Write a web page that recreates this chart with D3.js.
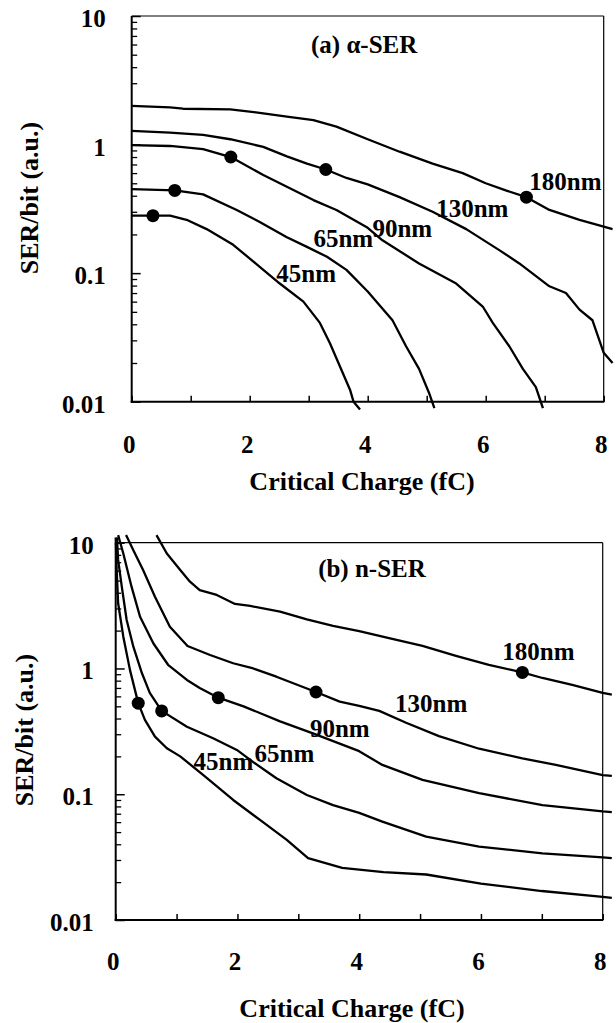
<!DOCTYPE html>
<html>
<head>
<meta charset="utf-8">
<script src="https://cdn.jsdelivr.net/npm/d3@7"></script>
<style>
  html, body { margin: 0; padding: 0; background: #fff; }
  svg text { font-family: "Liberation Serif", "Times New Roman", serif; font-weight: bold; fill: #000; }
</style>
</head>
<body>
<svg id="chart" width="616" height="1023"></svg>
<script>
// ---------------- data ----------------
const xTickValues = [0, 1, 2, 3, 4, 5, 6, 7, 8];
const xTickLabels = [0, 2, 4, 6, 8];
const yMajorTicks = [0.01, 0.1, 1, 10];
const nodeNames = ["45nm", "65nm", "90nm", "130nm", "180nm"];

// (a) alpha-SER curves  [critical charge fC, SER/bit]
const alpha45 = [[0,0.28],[0.36,0.28],[0.65,0.28],[0.93,0.26],[1.27,0.22],[1.72,0.166],[2.17,0.112],[2.51,0.083],[2.91,0.060],[3.19,0.041],[3.36,0.0285],[3.53,0.0188],[3.70,0.0124],[3.76,0.010],[3.87,0.0087]];
const alpha65 = [[0,0.45],[0.73,0.44],[1.21,0.41],[1.78,0.31],[2.17,0.25],[2.63,0.19],[2.97,0.16],[3.31,0.134],[3.64,0.106],[4.0,0.072],[4.42,0.043],[4.65,0.027],[4.87,0.018],[5.04,0.0117],[5.13,0.0089]];
const alpha90 = [[0,0.99],[0.65,0.975],[1.21,0.92],[1.68,0.80],[2.23,0.58],[2.63,0.47],[3.08,0.37],[3.47,0.31],[4.0,0.225],[4.25,0.18],[4.87,0.119],[5.50,0.083],[5.95,0.055],[6.12,0.041],[6.40,0.027],[6.63,0.018],[6.85,0.013],[6.97,0.0089]];
const alpha130 = [[0,1.28],[0.65,1.24],[1.21,1.19],[1.67,1.10],[2.23,0.96],[2.63,0.81],[2.97,0.71],[3.29,0.64],[3.64,0.55],[4.0,0.49],[4.54,0.39],[5.10,0.30],[5.67,0.22],[6.23,0.151],[6.57,0.119],[7.08,0.079],[7.36,0.070],[7.59,0.052],[7.81,0.043],[8.0,0.024],[8.15,0.020]];
const alpha180 = [[0,2.0],[0.65,1.95],[0.87,1.90],[1.67,1.88],[2.23,1.75],[2.63,1.65],[3.08,1.55],[3.47,1.38],[4.0,1.10],[4.54,0.88],[5.10,0.71],[5.61,0.60],[6.0,0.50],[6.34,0.44],[6.69,0.39],[7.08,0.31],[7.59,0.26],[8.0,0.23],[8.15,0.22]];
const alphaMarkers = [[0.36,0.28],[0.73,0.44],[1.68,0.80],[3.29,0.64],[6.69,0.39]];
const alphaLabelAnchors = [[2.45,0.0855],[3.08,0.160],[4.08,0.191],[5.16,0.273],[6.74,0.443]];

// (b) n-SER curves
const n45 = [[0.0,11],[0.016,6.06],[0.04,3.3],[0.125,1.79],[0.235,0.97],[0.37,0.53],[0.48,0.39],[0.645,0.287],[0.84,0.232],[1.06,0.20],[1.44,0.142],[1.93,0.090],[2.37,0.0625],[2.81,0.0434],[3.16,0.031],[3.72,0.026],[4.4,0.024],[5.1,0.023],[6.0,0.0195],[7.0,0.017],[8.0,0.0153],[8.15,0.015]];
const n65 = [[0.02,11],[0.04,7.3],[0.10,4.47],[0.18,2.43],[0.29,1.49],[0.43,0.92],[0.56,0.64],[0.755,0.46],[1.17,0.344],[1.60,0.279],[1.99,0.225],[2.26,0.18],[2.64,0.134],[3.14,0.0987],[3.57,0.082],[4.0,0.071],[4.38,0.0606],[5.10,0.046],[5.97,0.0383],[7.01,0.0339],[8.0,0.0315],[8.15,0.031]];
const n90 = [[0.04,11.5],[0.125,8.2],[0.26,4.47],[0.40,2.58],[0.62,1.58],[0.86,1.07],[1.17,0.81],[1.38,0.70],[1.685,0.586],[2.10,0.50],[2.70,0.38],[3.24,0.305],[4.0,0.22],[4.38,0.171],[5.04,0.13],[5.97,0.102],[7.01,0.082],[8.0,0.073],[8.15,0.072]];
const n130 = [[0.17,11.5],[0.29,8.7],[0.45,6.06],[0.645,3.72],[0.89,2.15],[1.18,1.51],[1.55,1.28],[1.93,1.10],[2.26,1.0],[2.64,0.86],[3.29,0.65],[3.68,0.545],[4.0,0.505],[4.33,0.46],[4.77,0.37],[5.31,0.29],[5.97,0.23],[6.68,0.193],[7.23,0.171],[8.0,0.142],[8.15,0.14]];
const n180 = [[0.67,11.5],[0.84,8.2],[1.06,6.06],[1.22,4.9],[1.38,4.2],[1.66,3.84],[1.96,3.26],[2.21,3.14],[2.70,2.83],[3.14,2.46],[3.57,2.18],[4.0,1.98],[4.49,1.74],[5.04,1.51],[5.59,1.26],[6.13,1.07],[6.68,0.93],[7.01,0.84],[7.50,0.74],[8.0,0.64],[8.15,0.62]];
const nMarkers = [[0.37,0.53],[0.755,0.46],[1.685,0.586],[3.29,0.65],[6.68,0.93]];
const nLabelAnchors = [[1.28,0.156],[2.28,0.181],[3.19,0.286],[4.59,0.451],[6.35,1.17]];

const panelTitles = ["(a) \u03B1-SER", "(b) n-SER"];
const titleAnchors = [[3.94,5.15],[4.21,5.37]];
const xAxisTitle = "Critical Charge (fC)";
const yAxisTitle = "SER/bit (a.u.)";

// ---------------- layout ----------------
const panels = [
  { left: 131.7, right: 603.7, top: 16, bottom: 401.7, labelPad: 26, xLabelY: 453, xTitleX: 362, xTitleY: 490, yTitleX: 38, yTitleY: 198,
    series: [alpha45, alpha65, alpha90, alpha130, alpha180], markers: alphaMarkers, labels: alphaLabelAnchors, title: panelTitles[0], titleAt: titleAnchors[0] },
  { left: 115.7, right: 602.7, top: 542.7, bottom: 920, labelPad: 22, xLabelY: 970, xTitleX: 352, xTitleY: 1017, yTitleX: 33, yTitleY: 730,
    series: [n45, n65, n90, n130, n180], markers: nMarkers, labels: nLabelAnchors, title: panelTitles[1], titleAt: titleAnchors[1] }
];

const svg = d3.select("#chart");
svg.append("rect").attr("width", 616).attr("height", 1023).attr("fill", "#fff");

const minorTicks = [];
[0.01, 0.1, 1].forEach(d => { for (let k = 2; k <= 9; k++) minorTicks.push(+(d * k).toPrecision(3)); });

panels.forEach(p => {
  const x = d3.scaleLinear().domain([0, 8]).range([p.left, p.right]);
  const y = d3.scaleLog().domain([0.01, 10]).range([p.bottom, p.top]);
  const g = svg.append("g");

  // curves
  const line = d3.line().x(d => x(d[0])).y(d => y(d[1]));
  g.selectAll("path.curve").data(p.series).enter().append("path")
    .attr("class", "curve")
    .attr("d", line)
    .attr("fill", "none")
    .attr("stroke", "#000")
    .attr("stroke-width", 2.3)
    .attr("stroke-linejoin", "round");

  // x axis (ticks inward)
  const xAxis = d3.axisBottom(x).tickValues(xTickValues).tickSizeInner(-6).tickSizeOuter(0)
    .tickFormat(d => xTickLabels.includes(d) ? String(d) : "");
  const gx = g.append("g").attr("transform", `translate(0,${p.bottom})`).call(xAxis);
  gx.select(".domain").remove();
  gx.selectAll(".tick line").attr("stroke", "#000").attr("stroke-width", 1.5);
  gx.selectAll(".tick text")
    .attr("y", p.xLabelY - p.bottom).attr("dy", null).attr("dx", -3)
    .style("font-size", "25px").style("font-family", "'Liberation Serif', 'Times New Roman', serif").style("font-weight", "bold").attr("fill", "#000");

  // y axis minor
  const yMinor = d3.axisLeft(y).tickValues(minorTicks).tickSizeInner(-5.5).tickSizeOuter(0).tickFormat("");
  const gym = g.append("g").attr("transform", `translate(${p.left},0)`).call(yMinor);
  gym.select(".domain").remove();
  gym.selectAll(".tick line").attr("stroke", "#000").attr("stroke-width", 1.3);

  // y axis major
  const yMajor = d3.axisLeft(y).tickValues(yMajorTicks).tickSizeInner(-9).tickSizeOuter(0)
    .tickPadding(p.labelPad).tickFormat(d => String(d));
  const gy = g.append("g").attr("transform", `translate(${p.left},0)`).call(yMajor);
  gy.select(".domain").remove();
  gy.selectAll(".tick line").attr("stroke", "#000").attr("stroke-width", 1.5);
  gy.selectAll(".tick text")
    .attr("dy", "0.42em")
    .style("font-size", "25px").style("font-family", "'Liberation Serif', 'Times New Roman', serif").style("font-weight", "bold").attr("fill", "#000");

  // frame
  g.append("line").attr("x1", p.left).attr("x2", p.right).attr("y1", p.top).attr("y2", p.top).attr("stroke", "#000").attr("stroke-width", 1.2);
  g.append("line").attr("x1", p.right).attr("x2", p.right).attr("y1", p.top).attr("y2", p.bottom).attr("stroke", "#000").attr("stroke-width", 1.2);
  g.append("line").attr("x1", p.left).attr("x2", p.left).attr("y1", p.top).attr("y2", p.bottom + 1).attr("stroke", "#000").attr("stroke-width", 2);
  g.append("line").attr("x1", p.left - 1).attr("x2", p.right + 0.6).attr("y1", p.bottom).attr("y2", p.bottom).attr("stroke", "#000").attr("stroke-width", 2);

  // markers
  g.selectAll("circle.mk").data(p.markers).enter().append("circle")
    .attr("class", "mk")
    .attr("cx", d => x(d[0])).attr("cy", d => y(d[1])).attr("r", 6.5).attr("fill", "#000");

  // node labels
  g.selectAll("text.node").data(p.labels).enter().append("text")
    .attr("class", "node")
    .attr("x", d => x(d[0])).attr("y", d => y(d[1]))
    .style("font-size", "25px")
    .text((d, i) => nodeNames[i]);

  // panel title
  g.append("text").attr("x", x(p.titleAt[0])).attr("y", y(p.titleAt[1]))
    .attr("text-anchor", "middle").style("font-size", "25px").text(p.title);

  // axis titles
  g.append("text").attr("x", p.xTitleX).attr("y", p.xTitleY).attr("text-anchor", "middle")
    .style("font-size", "26px").text(xAxisTitle);
  g.append("text").attr("transform", `translate(${p.yTitleX},${p.yTitleY}) rotate(-90)`).attr("text-anchor", "middle")
    .style("font-size", "26px").text(yAxisTitle);
});
</script>
</body>
</html>
